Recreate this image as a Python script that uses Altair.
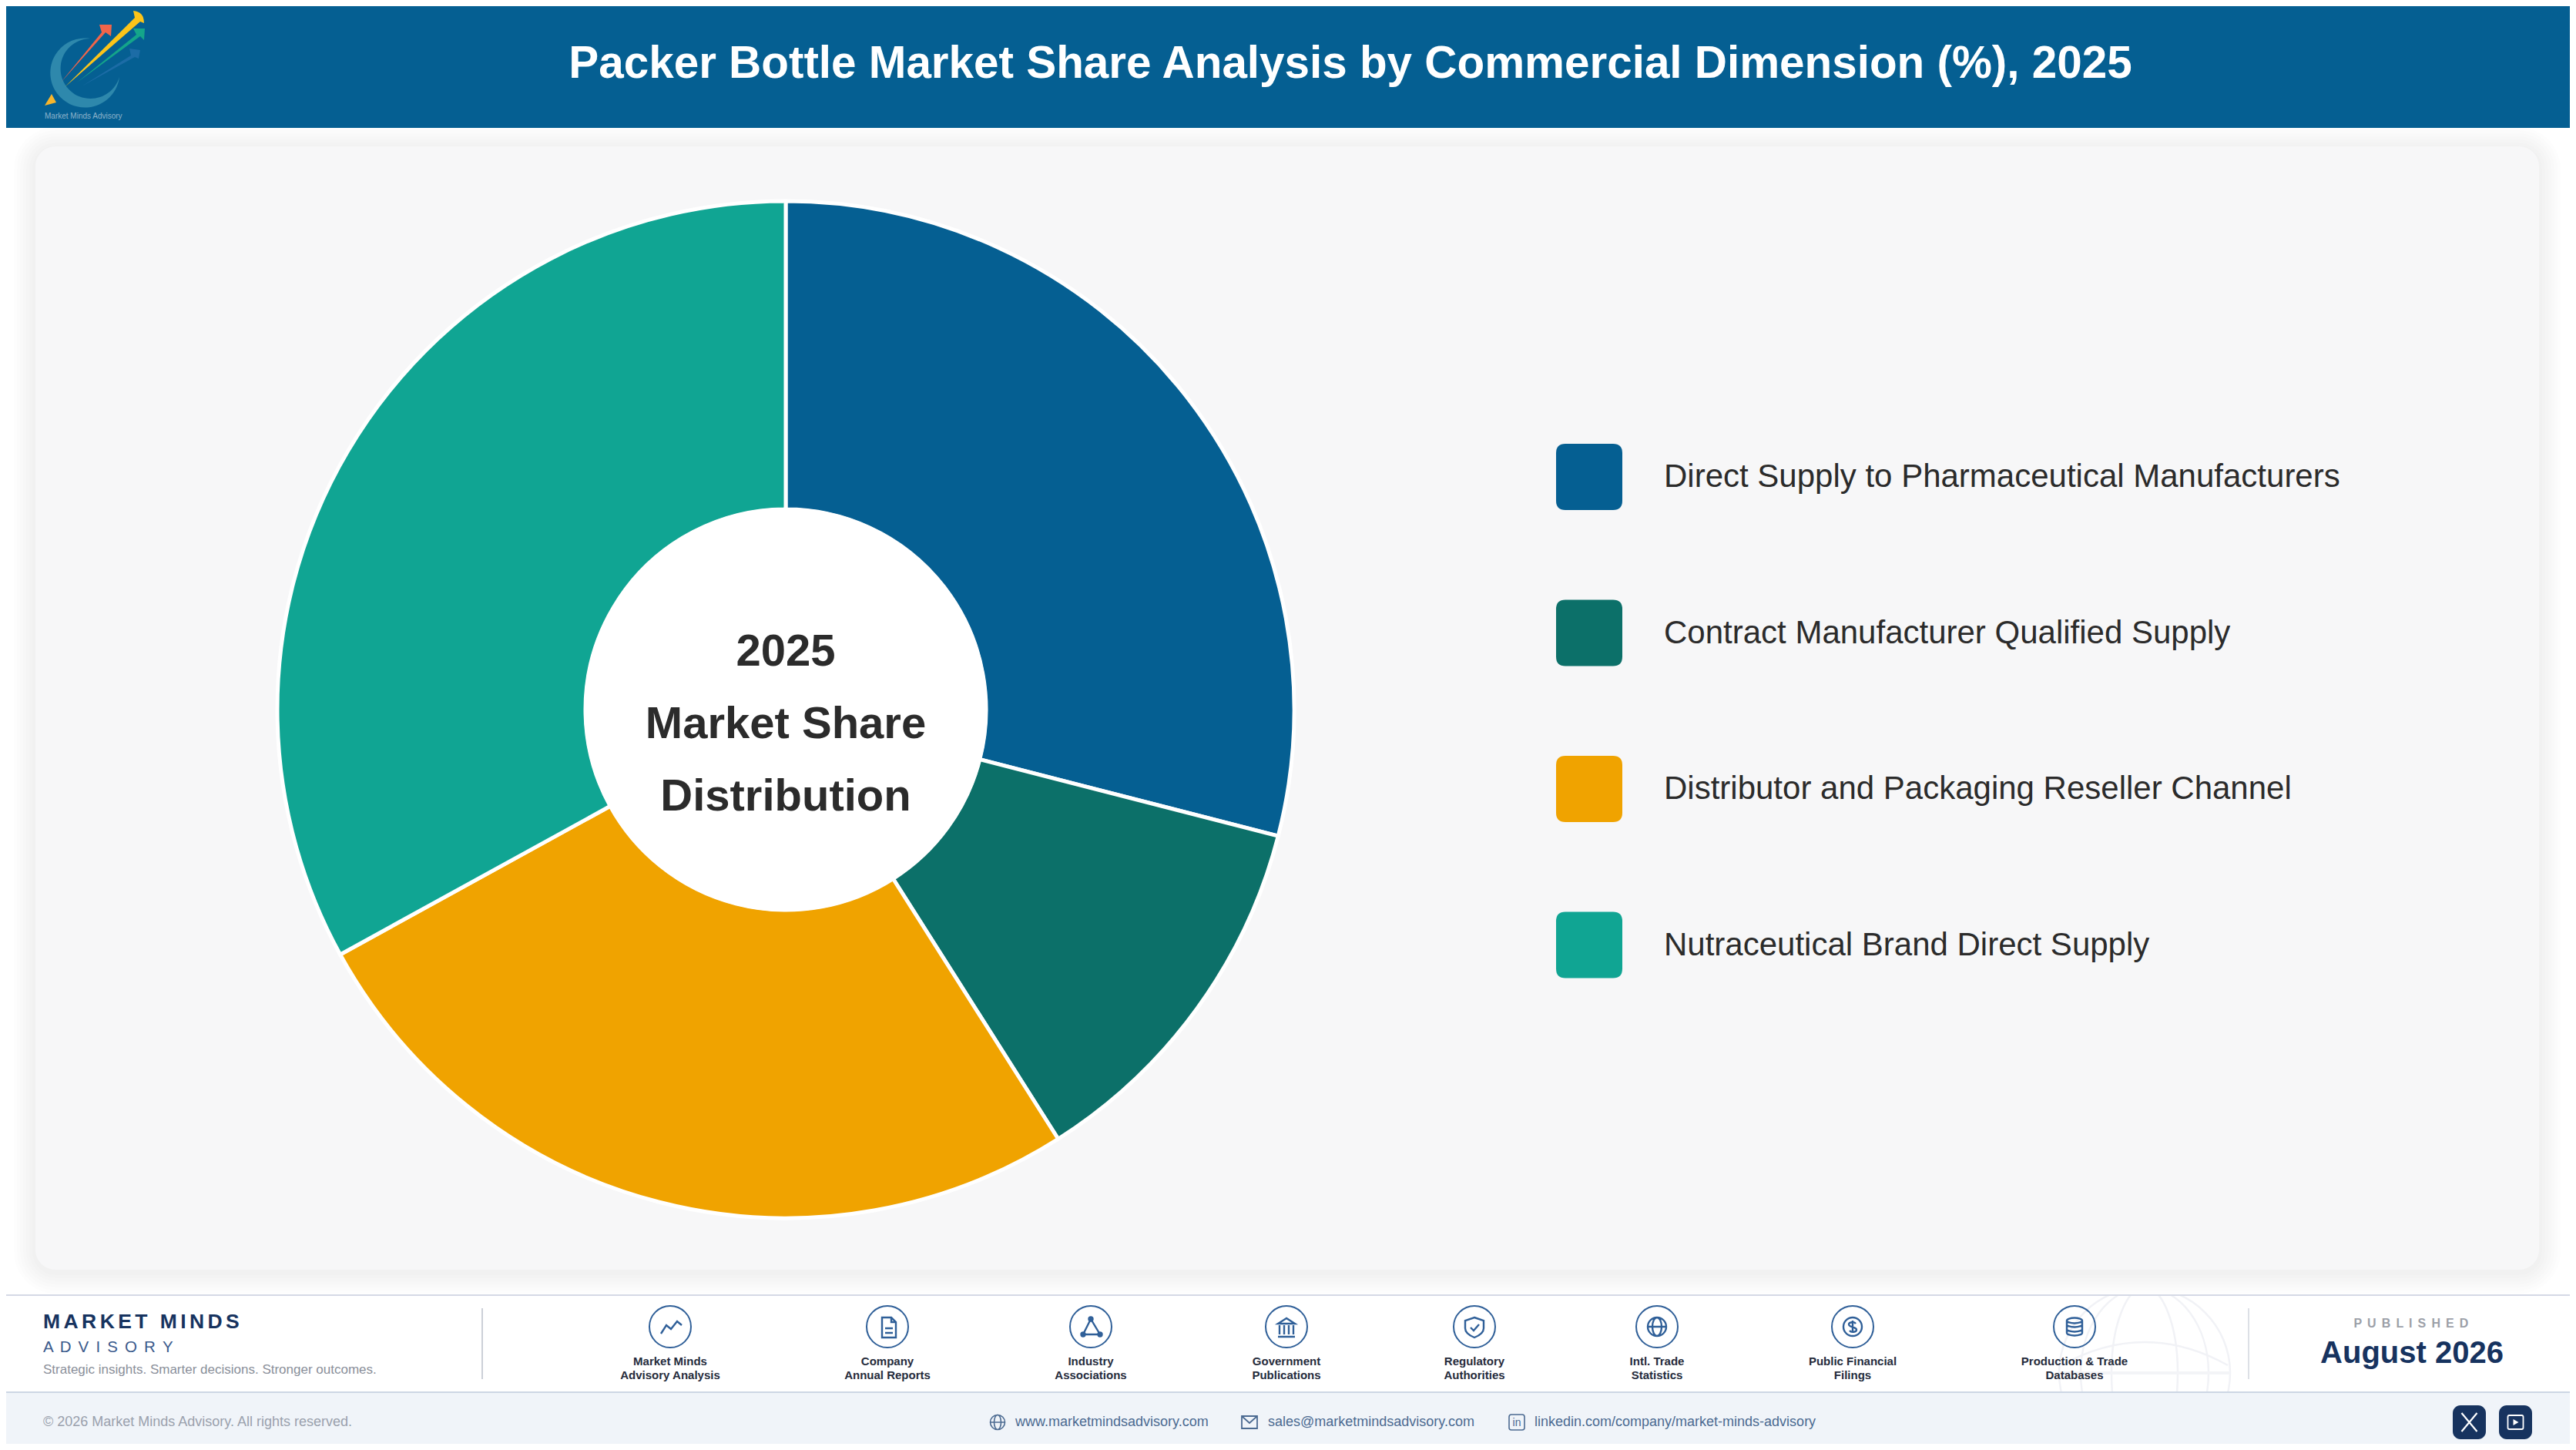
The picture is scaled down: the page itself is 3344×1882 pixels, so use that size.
import altair as alt
import pandas as pd

categories = [
    "Direct Supply to Pharmaceutical Manufacturers",
    "Contract Manufacturer Qualified Supply",
    "Distributor and Packaging Reseller Channel",
    "Nutraceutical Brand Direct Supply",
]
shares = [29, 12, 26, 33]
slice_order = [1, 2, 3, 4]
slice_colors = ["#055F92", "#0C7069", "#F0A300", "#10A593"]

title_text = "Packer Bottle Market Share Analysis by Commercial Dimension (%), 2025"
center_lines = ["2025", "Market Share", "Distribution"]
source_first = ["Market Minds", "Company", "Industry", "Government", "Regulatory", "Intl. Trade", "Public Financial", "Production & Trade"]
source_second = ["Advisory Analysis", "Annual Reports", "Associations", "Publications", "Authorities", "Statistics", "Filings", "Databases"]
link_texts = ["www.marketmindsadvisory.com", "sales@marketmindsadvisory.com", "linkedin.com/company/market-minds-advisory"]

FONT = "Liberation Sans"
NAVY = "#17335F"
ICON = "#2F5F98"
PAGE = 8  # the page margin, everything below is in page pixels
HAIR = "\u200a\u200a"

one = pd.DataFrame({"a": [1]})
pie_data = pd.DataFrame({"category": categories, "share": shares, "rank": slice_order})


def box(x0, y0, x1, y1, fill, radius=0, opacity=1):
    return alt.Chart(one).mark_rect(fill=fill, cornerRadius=radius, opacity=opacity).encode(
        x=alt.value(x0 - PAGE), x2=alt.value(x1 - PAGE),
        y=alt.value(y0 - PAGE), y2=alt.value(y1 - PAGE),
    )


def label(text, x, y, size, color, bold=False, align="left"):
    return alt.Chart(one).mark_text(
        font=FONT, fontSize=size, fontWeight="bold" if bold else "normal",
        color=color, align=align, baseline="middle",
    ).encode(x=alt.value(x - PAGE), y=alt.value(y - PAGE), text=alt.value(text))


def glyph(path, x, y, stroke=None, fill=None, width=2.0, opacity=1):
    # size=4 makes one path unit one pixel
    props = dict(shape=path, size=4, opacity=opacity, strokeWidth=width)
    props["filled"] = fill is not None
    if fill is not None:
        props["fill"] = fill
    if stroke is not None:
        props["stroke"] = stroke
    else:
        props["strokeWidth"] = 0
    return alt.Chart(one).mark_point(**props).encode(
        x=alt.value(x - PAGE), y=alt.value(y - PAGE)
    )


def circle(cx, cy, r):
    return f"M{cx - r},{cy} A{r},{r} 0 1,0 {cx + r},{cy} A{r},{r} 0 1,0 {cx - r},{cy} Z "


def spaced(text, gap):
    return gap.join(text)


layers = []

# globe watermark behind the footer
globe_path = (
    circle(0, 0, 111)
    + "M0,-111 A43,111 0 0,1 0,111 A43,111 0 0,1 0,-111 M0,-111 A83,111 0 0,1 0,111 A83,111 0 0,1 0,-111 "
    + "M-108,-10 Q0,-70 108,-10"
)
layers.append(glyph(globe_path, 2784, 1782, stroke="#F1F2F6", width=2.5))
layers.append(glyph("M-111,0 L111,0", 2784, 1782, stroke="#F3F4F7", width=4))

# card and its soft shadow
layers.append(box(0, 166, 3344, 1681, "#FFFFFF"))
for grow in [28, 24, 20, 16, 12, 8, 4]:
    layers.append(box(46 - grow, 190 - grow + 3, 3296 + grow, 1648 + grow + 3, "#000000", radius=26 + grow, opacity=0.009))
layers.append(box(46, 190, 3296, 1648, "#F7F7F8", radius=26))

# header
layers.append(box(0, 0, 3344, 166, "#055F92"))
layers.append(label(title_text, 1753, 83, 58.4, "#FFFFFF", bold=True, align="center"))

# logo
for path, color in [
    ("M155,100 A45,45 0 1,1 117,50 A39,39 0 1,0 155,100 Z", "#2E88AC"),
    ("M106,112 L170,72 L168,63 L182,65 L180,76 L175,74 Z", "#1C6CA6"),
    ("M79,107 L132,42 L129,32 L145,32 L144,47 L137,42 Z", "#F0654A"),
    ("M84,113 L175,23 L173,14 Q187,15 187,30 L182,28 Z", "#FCC419"),
    ("M100,107 L177,45 L173,37 L188,37 L187,52 L182,47 Z", "#14A58A"),
    ("M58,137 L67,122 L73,133 Z", "#F7B52C"),
]:
    layers.append(glyph(path, 0, 0, fill=color))
layers.append(label("Market Minds Advisory", 58, 151, 10, "#8DB3CB"))

# donut
pie = alt.Chart(pie_data).mark_arc(innerRadius=260, outerRadius=660, stroke="#FFFFFF", strokeWidth=5).encode(
    x=alt.value(1020 - PAGE),
    y=alt.value(921 - PAGE),
    theta=alt.Theta("share:Q", stack=True),
    order=alt.Order("rank:Q"),
    color=alt.Color(
        "category:N",
        scale=alt.Scale(domain=categories, range=slice_colors),
        legend=alt.Legend(
            orient="none", legendX=2020 - PAGE, legendY=576 - PAGE, title=None, padding=0,
            symbolType="M-1,-0.72 Q-1,-1 -0.72,-1 L0.72,-1 Q1,-1 1,-0.72 L1,0.72 Q1,1 0.72,1 L-0.72,1 Q-1,1 -1,0.72 Z",
            symbolSize=7396, symbolStrokeWidth=0, symbolOpacity=1,
            labelFont=FONT, labelFontSize=42, labelColor="#2B2B2B", labelLimit=1300,
            labelOffset=54, rowPadding=116.5,
        ),
    ),
)
layers.append(pie)
layers.append(alt.Chart(one).mark_arc(innerRadius=0, outerRadius=262, fill="#FFFFFF", theta=0, theta2=6.2832).encode(
    x=alt.value(1020 - PAGE), y=alt.value(921 - PAGE)
))
for line, y in zip(center_lines, [847, 941, 1035]):
    layers.append(label(line, 1020, y, 58, "#2B2B2B", bold=True, align="center"))

# footer lines and bands
layers.append(box(0, 1680, 3344, 1682, "#D5D9E5"))
layers.append(box(0, 1806, 3344, 1882, "#F0F4F9"))
layers.append(box(0, 1806, 3344, 1808, "#CDD6E4"))
layers.append(box(625, 1698, 627, 1790, "#CCD0D8"))
layers.append(box(2918, 1698, 2920, 1790, "#DDE0E6"))

# brand block
layers.append(label(spaced("MARKET MINDS", HAIR), 56, 1716, 26.5, NAVY, bold=True))
layers.append(label(spaced("ADVISORY", " " + HAIR), 56, 1749, 20.5, "#3A5A8C"))
layers.append(label("Strategic insights. Smarter decisions. Stronger outcomes.", 56, 1778, 17, "#8A8F9A"))
layers.append(label(spaced("PUBLISHED", " " + HAIR), 3130, 1718, 16, "#9CA0A8", bold=True, align="center"))
layers.append(label("August 2026", 3131, 1757, 40, NAVY, bold=True, align="center"))

# source icons
icon_xs = [870, 1152, 1416, 1670, 1914, 2151, 2405, 2693]
icon_paths = [
    "M-12,9 L-5,-2 L1,3 L9,-7 L15,-2",
    "M-7,-12 L5,-12 L11,-6 L11,14 L-7,14 Z M5,-12 L5,-6 L11,-6 M-3,2 L7,2 M-3,8 L7,8",
    "M0,-10 L-10,10 L12,10 Z " + circle(0, -10, 2.5) + circle(-10, 10, 2.5) + circle(12, 10, 2.5),
    "M0,-11 L-11,-4 L11,-4 Z M-9,-2 L-9,10 M-3,-2 L-3,10 M3,-2 L3,10 M9,-2 L9,10 M-11,13 L11,13",
    "M0,-12 L12,-8 L12,2 C12,8 5,12 0,14 C-5,12 -12,8 -12,2 L-12,-8 Z M-5,1 L-1,5 L6,-3",
    circle(0, 0, 12) + "M0,-12 A6,12 0 0,1 0,12 A6,12 0 0,1 0,-12 M-12,0 L12,0",
    circle(0, 0, 12) + "M4,-4 C2,-7 -5,-6 -5,-3 C-5,1 5,0 5,4 C5,7 -2,8 -4,5 M0,-8 L0,8",
    "M-10,-8 A10,3.5 0 0,1 10,-8 A10,3.5 0 0,1 -10,-8 L-10,8 A10,3.5 0 0,0 10,8 L10,-8 M-10,-3 A10,3.5 0 0,0 10,-3 M-10,3 A10,3.5 0 0,0 10,3",
]
for x, path, first, second in zip(icon_xs, icon_paths, source_first, source_second):
    layers.append(glyph(circle(0, 0, 27), x, 1722, stroke=ICON, width=2))
    layers.append(glyph(path, x, 1722, stroke=ICON, width=2.4))
    layers.append(label(first, x, 1767, 15, "#252B3B", bold=True, align="center"))
    layers.append(label(second, x, 1785, 15, "#252B3B", bold=True, align="center"))

# bottom strip
layers.append(label("\u00a9 2026 Market Minds Advisory. All rights reserved.", 56, 1846, 18, "#9AA1AD"))
link_xs = [1318, 1646, 1992]
for x, text in zip(link_xs, link_texts):
    layers.append(label(text, x, 1846, 18, "#4B6A91"))
layers.append(glyph(circle(0, 0, 9.5) + "M0,-9.5 A4.5,9.5 0 0,1 0,9.5 A4.5,9.5 0 0,1 0,-9.5 M-9.5,0 L9.5,0", 1295, 1846, stroke="#4B6A91", width=1.6))
layers.append(glyph("M-10,-8 L10,-8 L10,8 L-10,8 Z M-10,-8 L0,1 L10,-8", 1622, 1846, stroke="#4B6A91", width=1.8))
layers.append(glyph("M-7,-10 L7,-10 Q10,-10 10,-7 L10,7 Q10,10 7,10 L-7,10 Q-10,10 -10,7 L-10,-7 Q-10,-10 -7,-10 Z", 1969, 1846, stroke="#4B6A91", width=1.6))
layers.append(label("in", 1969, 1847, 14, "#4B6A91", align="center"))

layers.append(box(3184, 1824, 3227, 1868, NAVY, radius=10))
layers.append(box(3244, 1824, 3287, 1868, NAVY, radius=10))
layers.append(glyph("M-10,-12 L10,12 M10,-12 L-10,12", 3205.5, 1846, stroke="#FFFFFF", width=2.2))
layers.append(glyph("M-8,-9 L8,-9 Q10,-9 10,-7 L10,7 Q10,9 8,9 L-8,9 Q-10,9 -10,7 L-10,-7 Q-10,-9 -8,-9 Z", 3265.5, 1846, stroke="#FFFFFF", width=1.8))
layers.append(glyph("M-3,-4 L4,0 L-3,4 Z", 3265.5, 1846, fill="#FFFFFF"))

chart = (
    alt.layer(*layers)
    .properties(width=3328, height=1866, padding=0, background="#FFFFFF", autosize=alt.AutoSizeParams(type="none"))
    .configure_view(strokeWidth=0)
)

chart.save("out.html", embed_options={"renderer": "svg", "actions": False})
